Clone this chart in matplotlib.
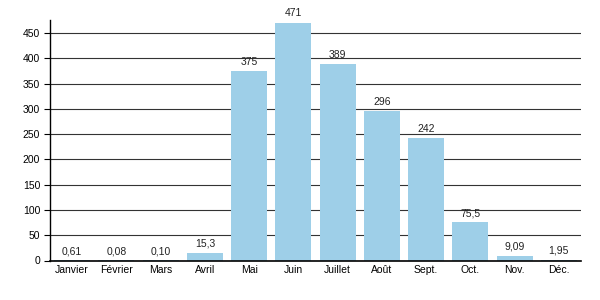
import matplotlib
matplotlib.use("Agg")
import matplotlib.pyplot as plt

months = ["Janvier", "Février", "Mars", "Avril", "Mai", "Juin", "Juillet",
          "Août", "Sept.", "Oct.", "Nov.", "Déc."]
values = [0.61, 0.08, 0.10, 15.3, 375, 471, 389, 296, 242, 75.5, 9.09, 1.95]
value_labels = ["0,61", "0,08", "0,10", "15,3", "375", "471", "389", "296",
                "242", "75,5", "9,09", "1,95"]
yticks = [0, 50, 100, 150, 200, 250, 300, 350, 400, 450]

plt.rcParams['font.family'] = ['Liberation Sans', 'DejaVu Sans']

fig = plt.figure(figsize=(6, 3), dpi=100)
ax = fig.add_axes([50/600, 1 - 260.5/300, 531/600, 240.5/300])

x = list(range(len(months)))
ax.bar(x, values, width=0.81, color="#9ecfe8", zorder=2)
for xi, v, lab in zip(x, values, value_labels):
    ax.annotate(lab, (xi, v), xytext=(0, 3), textcoords="offset points",
                ha="center", va="bottom", fontsize=7.5, color="#222222")

ax.set_xlim(-0.5, len(months) - 0.5)
ax.set_ylim(0, 476)
ax.set_yticks(yticks)
ax.set_yticklabels([str(t) for t in yticks], fontsize=7.5)
ax.set_xticks(x)
ax.set_xticklabels(months, fontsize=7.5)
ax.tick_params(axis="x", length=0, pad=3)
ax.tick_params(axis="y", length=4, width=0.8, pad=3)
ax.yaxis.grid(True, color="#333333", linewidth=0.8, zorder=1)
ax.set_axisbelow(True)
for s in ["top", "right"]:
    ax.spines[s].set_visible(False)
ax.spines["left"].set_linewidth(1.0)
ax.spines["bottom"].set_linewidth(1.2)

fig.savefig("out.png", dpi=100)
